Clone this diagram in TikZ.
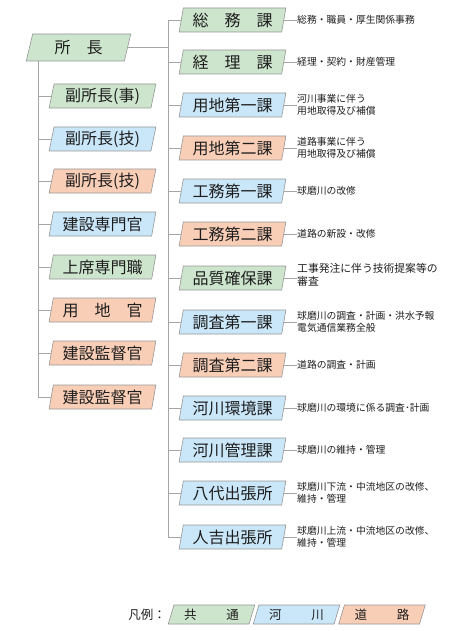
\documentclass[tikz,border=0pt]{standalone}
\usepackage{fontspec}
\setmainfont{Noto Sans CJK JP}
\usetikzlibrary{shapes.geometric}
\definecolor{cg}{RGB}{205,229,205}
\definecolor{cb}{RGB}{202,231,249}
\definecolor{co}{RGB}{249,206,183}
\definecolor{edgec}{RGB}{150,150,150}
\definecolor{linec}{RGB}{165,165,165}
\definecolor{txtc}{RGB}{30,30,30}
\begin{document}
\begin{tikzpicture}[x=1pt,y=-1pt,
  box/.style={trapezium, trapezium left angle=77, trapezium right angle=103,
    trapezium stretches=true, draw=edgec, line width=0.6pt,
    minimum width=107pt, minimum height=24pt, inner sep=0pt,
    font=\fontsize{16}{16}\selectfont, text=txtc},
  gbox/.style={box, fill=cg},
  bbox/.style={box, fill=cb},
  obox/.style={box, fill=co},
  lgbox/.style={box, trapezium left angle=70, trapezium right angle=110,
    minimum width=87pt, minimum height=19pt, font=\fontsize{12.5}{12.5}\selectfont},
  desc/.style={anchor=west, align=left, inner sep=0pt, text=txtc,
    font=\fontsize{9.8}{11.5}\selectfont},
  conn/.style={draw=linec, line width=0.7pt}
]
\useasboundingbox (0,0) rectangle (454,631);

% chief
\node[gbox, minimum width=105pt, minimum height=27pt] (chief) at (78.5,47.5) {所　長};

% left column
\node[gbox] (l1) at (102.5,96) {副所長(事)};
\node[bbox] (l2) at (102.5,139) {副所長(技)};
\node[obox] (l3) at (102.5,181) {副所長(技)};
\node[bbox] (l4) at (102.5,224) {建設専門官};
\node[gbox] (l5) at (102.5,267) {上席専門職};
\node[obox] (l6) at (102.5,310) {用　地　官};
\node[obox] (l7) at (102.5,353) {建設監督官};
\node[obox] (l8) at (102.5,397) {建設監督官};

% right column
\node[gbox] (r1) at (232.5,20) {総　務　課};
\node[gbox] (r2) at (232.5,62) {経　理　課};
\node[bbox] (r3) at (232.5,105) {用地第一課};
\node[obox] (r4) at (232.5,148) {用地第二課};
\node[bbox] (r5) at (232.5,191) {工務第一課};
\node[obox] (r6) at (232.5,234) {工務第二課};
\node[gbox] (r7) at (232.5,278) {品質確保課};
\node[bbox] (r8) at (232.5,322) {調査第一課};
\node[obox] (r9) at (232.5,365) {調査第二課};
\node[bbox] (r10) at (232.5,408) {河川環境課};
\node[bbox] (r11) at (232.5,450) {河川管理課};
\node[bbox] (r12) at (232.5,493) {八代出張所};
\node[bbox] (r13) at (232.5,537) {人吉出張所};

% descriptions
\node[desc] (d1) at (297,20) {総務・職員・厚生関係事務};
\node[desc] (d2) at (297,62) {経理・契約・財産管理};
\node[desc] (d3) at (297,105) {河川事業に伴う\\用地取得及び補償};
\node[desc] (d4) at (297,148) {道路事業に伴う\\用地取得及び補償};
\node[desc] (d5) at (297,191) {球磨川の改修};
\node[desc] (d6) at (297,234) {道路の新設・改修};
\node[desc, font=\fontsize{10.8}{13.5}\selectfont] (d7) at (297,275) {工事発注に伴う技術提案等の\\審査};
\node[desc] (d8) at (297,322) {球磨川の調査・計画・洪水予報\\電気通信業務全般};
\node[desc] (d9) at (297,365) {道路の調査・計画};
\node[desc] (d10) at (297,408) {球磨川の環境に係る調査･計画};
\node[desc] (d11) at (297,450) {球磨川の維持・管理};
\node[desc] (d12) at (297,493) {球磨川下流・中流地区の改修、\\維持・管理};
\node[desc] (d13) at (297,537) {球磨川上流・中流地区の改修、\\維持・管理};

% trunks
\coordinate (ltx) at (38,0);
\coordinate (rtx) at (168,0);
\draw[conn] (chief.south -| ltx) |- (l8.west);
\foreach \i in {1,...,7} {\draw[conn] (ltx |- l\i.west) -- (l\i.west);}
\draw[conn] (chief.east) -- (chief.east -| rtx);
\draw[conn] (r1.west -| rtx) -- (r1.west);
\draw[conn] (r1.west -| rtx) |- (r13.west);
\foreach \i in {2,...,12} {\draw[conn] (rtx |- r\i.west) -- (r\i.west);}
\foreach \i in {1,...,13} {\draw[conn] (r\i.east) -- (r\i.east -| d\i.west);}

% legend
\node[anchor=east, inner sep=0pt, text=txtc, font=\fontsize{12.5}{12.5}\selectfont] (lgt) at (166,614.5) {凡例：};
\node[lgbox, fill=cg] (lg1) at (211.5,614.5) {共\hspace{2.4em}通};
\node[lgbox, fill=cb] (lg2) at (296.5,614.5) {河\hspace{2.4em}川};
\node[lgbox, fill=co] (lg3) at (382,614.5) {道\hspace{2.4em}路};
\end{tikzpicture}
\end{document}
